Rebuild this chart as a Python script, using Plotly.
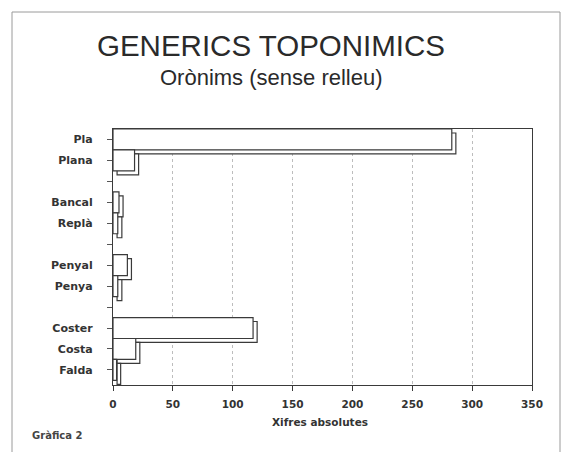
import plotly.graph_objects as go

# Data
categories = ["Pla", "Plana", "Bancal", "Replà", "Penyal", "Penya", "Coster", "Costa", "Falda"]
slots = [0, 1, 3, 4, 6, 7, 9, 10, 11]          # row positions (gaps between groups)
values = [283, 18, 5, 4, 12, 4, 117, 19, 3]
x_ticks = [0, 50, 100, 150, 200, 250, 300, 350]

all_slots = list(range(12))
slot_text = {s: c for s, c in zip(slots, categories)}
tick_text = [slot_text.get(s, "") for s in all_slots]

DX = 3.4      # depth offset in data units (x)
DY = 0.19     # depth offset in slot units (y)
LINE = "#3a3a3a"
FONT = "Liberation Sans, Arial, sans-serif"
LFONT = "DejaVu Sans, Verdana, sans-serif"

L, R, T, B = 113, 532, 129, 385
PW, PH = R - L, B - T

def px(x):
    return (x - L) / PW

def py(y):
    return (B - y) / PH

fig = go.Figure()

# depth (3D side) bars, drawn behind
fig.add_trace(go.Bar(
    orientation="h",
    y=[s + DY for s in slots],
    x=values,
    base=[DX] * len(values),
    width=[1] * len(values),
    marker=dict(color="white", line=dict(color=LINE, width=1.2)),
    hoverinfo="skip",
    showlegend=False,
))
# front bars
fig.add_trace(go.Bar(
    orientation="h",
    y=slots,
    x=values,
    width=[1] * len(values),
    marker=dict(color="white", line=dict(color=LINE, width=1.2)),
    customdata=categories,
    hovertemplate="%{customdata}: %{x}<extra></extra>",
    showlegend=False,
))

fig.update_layout(
    width=562, height=452,
    margin=dict(l=L, r=562 - R, t=T, b=452 - B, autoexpand=False),
    paper_bgcolor="white",
    plot_bgcolor="white",
    barmode="overlay",
    font=dict(family=FONT, color="#2a2a2a"),
    xaxis=dict(
        range=[0, 350],
        tickvals=x_ticks,
        ticktext=[str(v) for v in x_ticks],
        ticks="outside", ticklen=5, tickcolor=LINE,
        ticklabelstandoff=4,
        tickfont=dict(size=10.5, family=LFONT, color="#333", weight="bold"),
        showgrid=True, gridcolor="#bdbdbd", griddash="dot", gridwidth=1,
        showline=True, linecolor=LINE, linewidth=1.2, mirror=True,
        zeroline=False, automargin=False,
        fixedrange=True,
    ),
    yaxis=dict(
        range=[11.72, -0.5],
        tickvals=all_slots,
        ticktext=tick_text,
        ticks="outside", ticklen=5, tickcolor="#555",
        ticklabelstandoff=12,
        tickfont=dict(size=11, family=LFONT, color="#333", weight="bold"),
        showgrid=False,
        showline=True, linecolor=LINE, linewidth=1.2, mirror=True,
        zeroline=False, automargin=False,
        fixedrange=True,
    ),
    shapes=[
        dict(type="rect", xref="paper", yref="paper",
             x0=px(12), x1=px(560), y0=py(470), y1=py(12),
             line=dict(color="#9a9a9a", width=1), layer="below"),
    ],
    annotations=[
        dict(text="GENERICS TOPONIMICS", xref="paper", yref="paper",
             x=px(271), y=py(45), showarrow=False,
             xanchor="center", yanchor="middle",
             font=dict(size=29.5, family=FONT, color="#2a2a2a")),
        dict(text="Orònims (sense relleu)", xref="paper", yref="paper",
             x=px(271), y=py(77), showarrow=False,
             xanchor="center", yanchor="middle",
             font=dict(size=22, family=FONT, color="#2a2a2a")),
        dict(text="Xifres absolutes", xref="paper", yref="paper",
             x=px(320), y=py(422), showarrow=False,
             xanchor="center", yanchor="middle",
             font=dict(size=10.5, family=LFONT, color="#333", weight="bold")),
        dict(text="Gràfica 2", xref="paper", yref="paper",
             x=px(30), y=py(435), showarrow=False,
             xanchor="left", yanchor="middle",
             font=dict(size=10, family=LFONT, color="#444", weight="bold")),
    ],
)

fig.write_html("out.html", config={"displayModeBar": False},
               post_script="document.body.style.margin='0';")
